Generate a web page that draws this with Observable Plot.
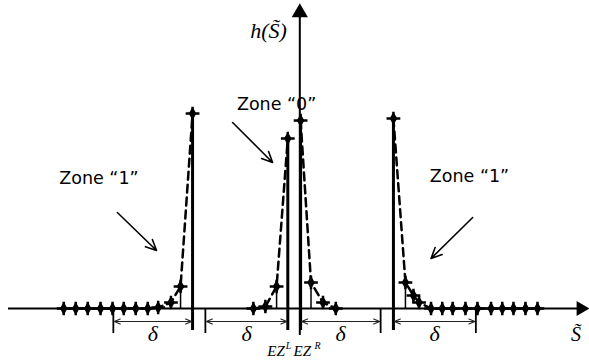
<!DOCTYPE html>
<html><head><meta charset="utf-8">
<script src="https://cdn.jsdelivr.net/npm/d3@7"></script>
<script src="https://cdn.jsdelivr.net/npm/@observablehq/plot@0.6"></script>
<style>body{margin:0;background:#fff}</style>
</head><body><div id="chart"></div>
<script>
// ---- data (S in units of δ, h normalised) ----
const zone1LeftS  = [-2.95,-2.80,-2.65,-2.49,-2.34,-2.20,-2.05,-1.90,-1.77,-1.61,-1.49,-1.34];
const zone1LeftH  = [0,0,0,0,0,0,0,0,0.005,0.03,0.11,0.975];
const zone0LeftS  = [-0.58,-0.43,-0.29,-0.15];
const zone0LeftH  = [0,0.01,0.11,0.85];
const zone0RightS = [0.01,0.14,0.29,0.45];
const zone0RightH = [0.94,0.13,0.03,0];
const zone1RightS = [1.17,1.32,1.42,1.49,1.64,1.78,1.91,2.07,2.22,2.39,2.53,2.67,2.82,2.97];
const zone1RightH = [0.95,0.13,0.065,0.03,0,0,0,0,0,0,0,0,0,0];

const peakS = [-1.34,-0.15,0.01,1.17];
const peakH = [0.975,0.85,0.94,0.95];
const stemS = [-1.49,-0.29,0.14,1.32];
const stemH = [0.11,0.11,0.13,0.13];
const boundaryS = [-2.33,-1.18,1.01,2.20];
const deltaFrom = [-2.33,-1.18,0.01,1.17];
const deltaTo   = [-1.34,-0.15,1.01,2.20];

const axisX = [-3.64, 3.6];
const axisY = [-0.135, 1.52];
const lineBottom = -0.11, tickBottom = -0.125, deltaLevel = -0.065;

const zoneLabels = ["Zone \u201C1\u201D","Zone \u201C0\u201D","Zone \u201C1\u201D"];
const zoneLabelS = [-2.51,-0.29,2.12];
const zoneLabelH = [0.65,1.02,0.66];
const pointerFromS = [-2.28,-0.84,2.16];
const pointerFromH = [0.48,0.93,0.455];
const pointerToS   = [-1.79,-0.34,1.64];
const pointerToH   = [0.29,0.73,0.25];

// ---- tables ----
const zones = [
  ["z1L", zone1LeftS, zone1LeftH],
  ["z0L", zone0LeftS, zone0LeftH],
  ["z0R", zone0RightS, zone0RightH],
  ["z1R", zone1RightS, zone1RightH]
];
const points = zones.flatMap(([z, S, H]) => S.map((s, i) => ({zone: z, S: s, h: H[i]})));
const peaks = peakS.map((s, i) => ({S: s, h: peakH[i]}));
const stems = stemS.map((s, i) => ({S: s, h: stemH[i]}));
const deltas = deltaFrom.map((s, i) => ({x1: s, x2: deltaTo[i], mid: (s + deltaTo[i]) / 2}));
const labels = zoneLabels.map((t, i) => ({t, S: zoneLabelS[i], h: zoneLabelH[i]}));
const pointers = pointerFromS.map((s, i) => ({x1: s, y1: pointerFromH[i], x2: pointerToS[i], y2: pointerToH[i]}));

const serif = "Liberation Serif, Times New Roman, serif";
const sans = "DejaVu Sans, Verdana, sans-serif";

const chart = Plot.plot({
  width: 589, height: 360, margin: 0,
  style: {background: "#fff"},
  x: {domain: [-3.74, 3.62], axis: null},
  y: {domain: [-0.26, 1.54], axis: null},
  marks: [
    // axes
    Plot.ruleY([0], {x1: axisX[0], x2: axisX[1] - 0.1, stroke: "black", strokeWidth: 2}),
    Plot.ruleX([0], {y1: axisY[0], y2: axisY[1] - 0.05, stroke: "black", strokeWidth: 2}),
    Plot.dot([{x: axisX[1], y: 0}], {x: "x", y: "y", symbol: "triangle", r: 5.5, rotate: 90, fill: "black", dx: -7}),
    Plot.dot([{x: 0, y: axisY[1]}], {x: "x", y: "y", symbol: "triangle", r: 6, fill: "black", dy: 8}),
    // peaks & boundaries
    Plot.ruleX(peaks, {x: "S", y1: lineBottom, y2: "h", stroke: "black", strokeWidth: 3}),
    Plot.ruleX(boundaryS, {x: d => d, y1: 0, y2: tickBottom, stroke: "black", strokeWidth: 1.8}),
    Plot.ruleX(stems, {x: "S", y1: 0, y2: "h", stroke: "black", strokeWidth: 1.5}),
    // dashed distributions
    Plot.line(points, {x: "S", y: "h", z: "zone", stroke: "black", strokeWidth: 2.5, strokeDasharray: "8,5"}),
    Plot.dot(points, {x: "S", y: "h", symbol: "diamond", r: 4, fill: "black"}),
    Plot.dot(points, {x: "S", y: "h", symbol: "plus", r: 4.5, stroke: "black", strokeWidth: 2.5}),
    // delta arrows (double-headed, drawn from the middle outwards)
    Plot.arrow(deltas, {x1: "mid", x2: "x1", y1: deltaLevel, y2: deltaLevel, stroke: "#222", strokeWidth: 1.2, headLength: 8, headAngle: 45, insetEnd: 1}),
    Plot.arrow(deltas, {x1: "mid", x2: "x2", y1: deltaLevel, y2: deltaLevel, stroke: "#222", strokeWidth: 1.2, headLength: 8, headAngle: 45, insetEnd: 1}),
    Plot.text(deltas, {x: "mid", y: -0.128, text: () => "\u03B4", fontFamily: serif, fontStyle: "italic", fontSize: 22}),
    // EZ labels
    Plot.text([peakS[1]], {x: d => d, y: -0.215, text: () => "EZ", textAnchor: "end", dx: -3, fontFamily: serif, fontStyle: "italic", fontSize: 15}),
    Plot.text([peakS[1]], {x: d => d, y: -0.215, text: () => "L", textAnchor: "start", dx: -2, dy: -6, fontFamily: serif, fontStyle: "italic", fontSize: 10}),
    Plot.text([peakS[2]], {x: d => d, y: -0.215, text: () => "EZ", textAnchor: "start", dx: -7, fontFamily: serif, fontStyle: "italic", fontSize: 15}),
    Plot.text([peakS[2]], {x: d => d, y: -0.215, text: () => "R", textAnchor: "start", dx: 14, dy: -6, fontFamily: serif, fontStyle: "italic", fontSize: 10}),
    // zone labels & pointers
    Plot.text(labels, {x: "S", y: "h", text: "t", fontFamily: sans, fontSize: 17.5}),
    Plot.arrow(pointers, {x1: "x1", y1: "y1", x2: "x2", y2: "y2", stroke: "black", strokeWidth: 1.6, headLength: 11, headAngle: 50}),
    // axis titles
    Plot.text([0], {x: -0.39, y: 1.39, text: () => "h(S\u0303)", fontFamily: serif, fontStyle: "italic", fontSize: 22}),
    Plot.text([0], {x: 3.45, y: -0.13, text: () => "S\u0303", fontFamily: serif, fontStyle: "italic", fontSize: 20})
  ]
});
document.getElementById("chart").append(chart);
</script>
</body></html>
